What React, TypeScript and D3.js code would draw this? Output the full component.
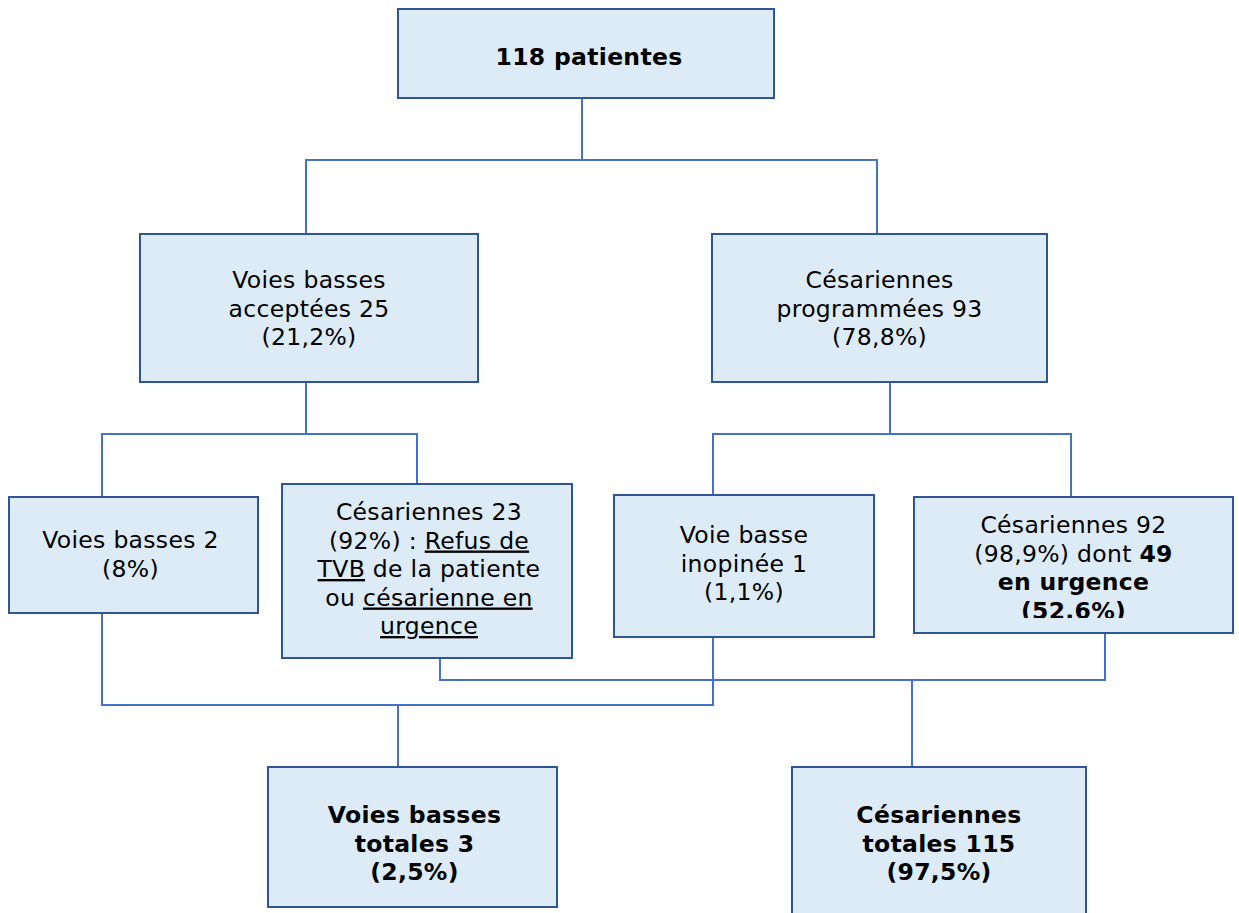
import * as d3 from "d3";

// node texts; **bold** and __underline__ markers
const nodeIds = ["root", "vbAcc", "cesProg", "vb2", "ces23", "vbIno", "ces92", "vbTot", "cesTot"];
const nodeLines: string[][] = [
  ["**118 patientes**"],
  ["Voies basses", "acceptées 25", "(21,2%)"],
  ["Césariennes", "programmées 93", "(78,8%)"],
  ["Voies basses 2", "(8%)"],
  ["Césariennes 23", "(92%) : __Refus de__", "__TVB__ de la patiente", "ou __césarienne en__", "__urgence__"],
  ["Voie basse", "inopinée 1", "(1,1%)"],
  ["Césariennes 92", "(98,9%) dont **49**", "**en urgence**", "**(52.6%)**"],
  ["**Voies basses**", "**totales 3**", "**(2,5%)**"],
  ["**Césariennes**", "**totales 115**", "**(97,5%)**"],
];

// layout (x0, y0, x1, y1, first baseline, text centre offset)
const layout: Record<string, [number, number, number, number, number, number]> = {
  root: [398, 9, 774, 98, 65, 3],
  vbAcc: [140, 234, 478, 382, 288, 0],
  cesProg: [712, 234, 1047, 382, 288, 0],
  vb2: [9, 497, 258, 613, 548, -3],
  ces23: [282, 484, 572, 658, 520, 2],
  vbIno: [614, 495, 874, 637, 543, 0],
  ces92: [914, 497, 1233, 633, 533, 0],
  vbTot: [268, 767, 557, 907, 823, 2],
  cesTot: [792, 767, 1086, 925, 823, 0],
};

// connector polylines
const links: [number, number][][] = [
  [[582, 98], [582, 160]],
  [[306, 234], [306, 160], [877, 160], [877, 234]],
  [[306, 382], [306, 434]],
  [[102, 497], [102, 434], [417, 434], [417, 484]],
  [[890, 382], [890, 434]],
  [[713, 495], [713, 434], [1071, 434], [1071, 497]],
  [[102, 613], [102, 705], [713, 705], [713, 637]],
  [[398, 705], [398, 767]],
  [[440, 658], [440, 680], [1105, 680], [1105, 633]],
  [[912, 680], [912, 767]],
];

const lineH = 28.5;
const line = d3.line<[number, number]>();

function parse(s: string) {
  const parts: { t: string; b: boolean; u: boolean }[] = [];
  const re = /(\*\*[^*]+\*\*|__[^_]+__)/g;
  let last = 0;
  let m: RegExpExecArray | null;
  while ((m = re.exec(s))) {
    if (m.index > last) parts.push({ t: s.slice(last, m.index), b: false, u: false });
    const tok = m[0];
    parts.push({ t: tok.slice(2, -2), b: tok.startsWith("**"), u: tok.startsWith("__") });
    last = m.index + tok.length;
  }
  if (last < s.length) parts.push({ t: s.slice(last), b: false, u: false });
  return parts;
}

export default function App() {
  return (
    <svg width={1239} height={913} style={{ position: "absolute", left: 0, top: 0 }}
      fontFamily="'DejaVu Sans', Verdana, sans-serif" fontSize={23.5} letterSpacing={0.3}>
      <rect width={1239} height={913} fill="#ffffff" />
      <defs>
        {nodeIds.map((id) => {
          const [x0, y0, x1, y1] = layout[id];
          return (
            <clipPath id={`clip-${id}`} key={id}>
              <rect x={x0} y={y0} width={x1 - x0} height={id === "ces92" ? y1 - y0 - 15 : y1 - y0} />
            </clipPath>
          );
        })}
      </defs>
      {links.map((pts, i) => (
        <path key={i} d={line(pts) ?? ""} fill="none" stroke="#4472C4" strokeWidth={2} />
      ))}
      {nodeIds.map((id, i) => {
        const [x0, y0, x1, y1, base, dx] = layout[id];
        const cx = (x0 + x1) / 2 + dx;
        return (
          <g key={id}>
            <rect x={x0} y={y0} width={x1 - x0} height={y1 - y0} fill="#DDEBF7" stroke="#2F5597" strokeWidth={2} />
            <g clipPath={`url(#clip-${id})`}>
              {nodeLines[i].map((ln, j) => (
                <text key={j} x={cx} y={base + j * lineH} textAnchor="middle" fill="#000">
                  {parse(ln).map((p, k) => (
                    <tspan key={k} fontWeight={p.b ? "bold" : "normal"} textDecoration={p.u ? "underline" : undefined}>
                      {p.t}
                    </tspan>
                  ))}
                </text>
              ))}
            </g>
          </g>
        );
      })}
    </svg>
  );
}
